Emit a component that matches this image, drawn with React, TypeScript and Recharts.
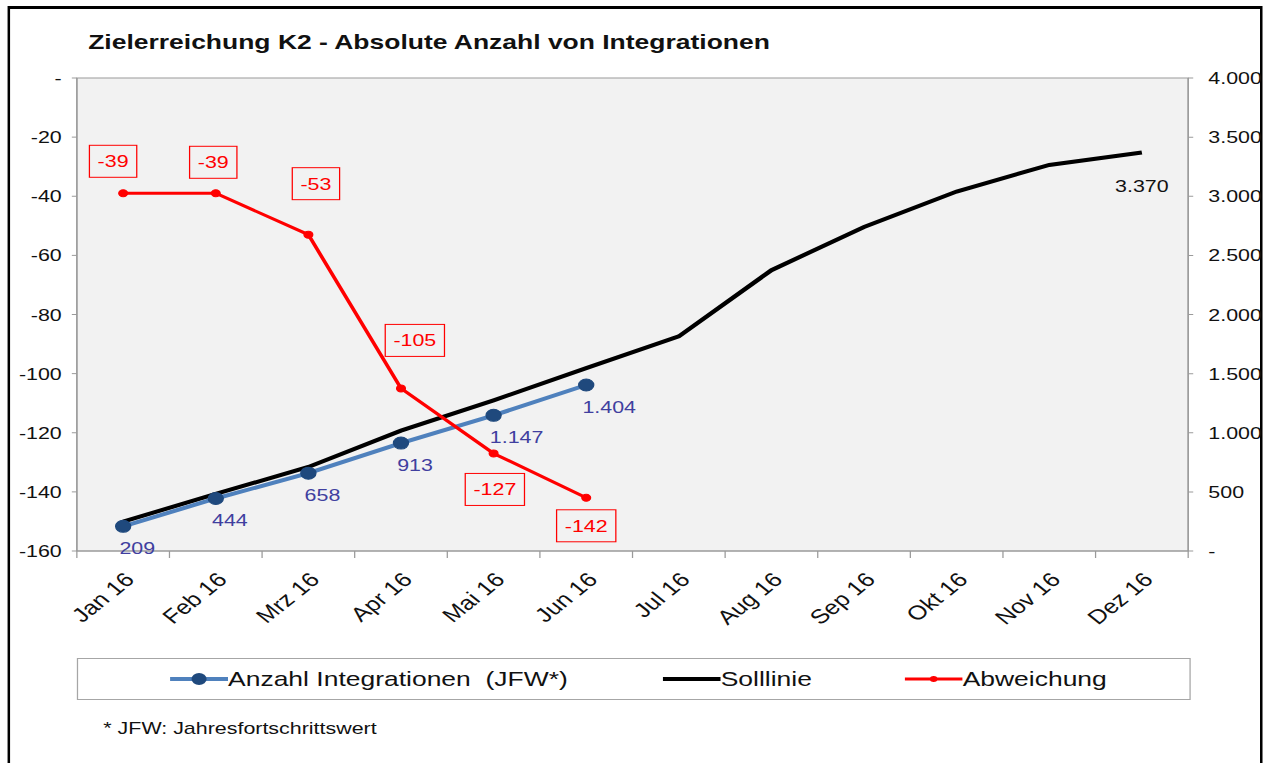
import React from "react";
import {
  ComposedChart,
  Line,
  XAxis,
  YAxis,
  ReferenceArea,
  LabelList,
} from "recharts";

// ---------------------------------------------------------------------------
// Data
// ---------------------------------------------------------------------------

const MONTHS = [
  "Jan 16", "Feb 16", "Mrz 16", "Apr 16", "Mai 16", "Jun 16",
  "Jul 16", "Aug 16", "Sep 16", "Okt 16", "Nov 16", "Dez 16",
];

// Anzahl Integrationen (JFW*) – right axis
const INTEGRATIONS = [209, 444, 658, 913, 1147, 1404, null, null, null, null, null, null];

// Solllinie – right axis
const TARGET = [248, 483, 711, 1018, 1274, 1546, 1815, 2375, 2740, 3040, 3265, 3370];

// Abweichung – left axis
const DEVIATION = [-39, -39, -53, -105, -127, -142, null, null, null, null, null, null];

const LEFT_TICKS = [-160, -140, -120, -100, -80, -60, -40, -20, 0];
const RIGHT_TICKS = [0, 500, 1000, 1500, 2000, 2500, 3000, 3500, 4000];

// ---------------------------------------------------------------------------
// Layout (the source picture is stretched horizontally, so we draw narrower
// and scale the whole thing in x)
// ---------------------------------------------------------------------------

const STRETCH = 1.26;
const W = 1006;
const H = 763;
const PLOT_LEFT = 61;
const PLOT_RIGHT = 943;
const PLOT_TOP = 78;
const PLOT_BOTTOM = 551;
const AXIS_W = 48;

const FONT = "'Liberation Sans', Arial, sans-serif";
const AXIS_GRAY = "#9a9a9a";
const BLUE = "#4f81bd";
const BLUE_DOT = "#1f497d";
const BLUE_TEXT = "#403f9f";
const RED = "#ff0000";

// manual placement of the boxed deviation labels (dx, dy from the point)
const RED_LABEL_OFFSETS = [
  [-8, -32], [-2, -31], [6, -51], [11, -48], [1, 36], [0, 28],
];

const data = MONTHS.map((month, i) => ({
  month,
  ist: INTEGRATIONS[i],
  soll: TARGET[i],
  abw: DEVIATION[i],
}));

const fmtDE = (v: number) =>
  v === 0 ? "-" : Math.round(v).toString().replace(/\B(?=(\d{3})+(?!\d))/g, ".");

const textWidth = (s: string, size: number) =>
  s.split("").reduce((w, c) => w + (c === "-" ? 0.333 : c === "." ? 0.278 : 0.556), 0) * size;

// ---------------------------------------------------------------------------
// Custom ticks & labels
// ---------------------------------------------------------------------------

const MonthTick = (props: any) => {
  const { x, payload, index } = props;
  const half = (PLOT_RIGHT - PLOT_LEFT) / MONTHS.length / 2;
  const ax = x + 10;
  const ay = PLOT_BOTTOM + 30;
  return (
    <g>
      <line x1={x - half} x2={x - half} y1={PLOT_BOTTOM} y2={PLOT_BOTTOM + 7} stroke={AXIS_GRAY} />
      {index === MONTHS.length - 1 && (
        <line x1={x + half} x2={x + half} y1={PLOT_BOTTOM} y2={PLOT_BOTTOM + 7} stroke={AXIS_GRAY} />
      )}
      <text
        x={ax}
        y={ay}
        textAnchor="end"
        fontSize={20}
        fontFamily={FONT}
        fill="#111"
        transform={`rotate(-45 ${ax} ${ay})`}
      >
        {payload.value}
      </text>
    </g>
  );
};

const IstLabel = (props: any) => {
  const { x, y, value } = props;
  if (value == null) return null;
  return (
    <text x={x - 3} y={y + 28} fill={BLUE_TEXT} fontSize={17} fontFamily={FONT}>
      {fmtDE(value)}
    </text>
  );
};

const SollLabel = (props: any) => {
  const { x, y, value, index } = props;
  if (index !== TARGET.length - 1) return null;
  return (
    <text x={x} y={y + 40} textAnchor="middle" fill="#111" fontSize={17} fontFamily={FONT}>
      {fmtDE(value)}
    </text>
  );
};

const AbwLabel = (props: any) => {
  const { x, y, value, index } = props;
  if (value == null) return null;
  const [dx, dy] = RED_LABEL_OFFSETS[index] || [0, -30];
  const label = String(Math.round(value));
  const w = textWidth(label, 17) + 13;
  const h = 32;
  const cx = x + dx;
  const cy = y + dy;
  return (
    <g>
      <rect x={cx - w / 2} y={cy - h / 2} width={w} height={h} fill="none" stroke={RED} strokeWidth={1} />
      <text x={cx} y={cy + 6} textAnchor="middle" fill={RED} fontSize={17} fontFamily={FONT}>
        {label}
      </text>
    </g>
  );
};

// ---------------------------------------------------------------------------
// Legend
// ---------------------------------------------------------------------------

const LegendItem = ({ left, color, width, dot, text }: any) => (
  <div style={{ position: "absolute", left, top: 0, height: 40, display: "flex", alignItems: "center" }}>
    <svg width={46} height={20} style={{ display: "block" }}>
      <line x1={0} x2={46} y1={10} y2={10} stroke={color} strokeWidth={width} />
      {dot && <circle cx={23} cy={10} r={dot.r} fill={dot.fill} />}
    </svg>
    <span style={{ fontSize: 21, whiteSpace: "pre", color: "#111" }}>{text}</span>
  </div>
);

// ---------------------------------------------------------------------------
// App
// ---------------------------------------------------------------------------

export default function App() {
  return (
    <div
      style={{
        position: "absolute",
        left: 0,
        top: 0,
        width: W,
        height: H,
        overflow: "hidden",
        background: "#fff",
        fontFamily: FONT,
        transform: `scaleX(${STRETCH})`,
        transformOrigin: "0 0",
      }}
    >
      {/* outer frame */}
      <div
        style={{
          position: "absolute",
          left: 6.3,
          top: 6,
          width: 996,
          height: 820,
          boxSizing: "border-box",
          borderStyle: "solid",
          borderColor: "#000",
          borderWidth: "3px 2.4px",
        }}
      />

      <div
        style={{
          position: "absolute",
          left: 70,
          top: 30,
          fontSize: 21,
          fontWeight: "bold",
          color: "#111",
          whiteSpace: "nowrap",
        }}
      >
        Zielerreichung K2 - Absolute Anzahl von Integrationen
      </div>

      <div style={{ position: "absolute", left: 0, top: 0 }}>
        <ComposedChart
          width={W}
          height={H}
          data={data}
          margin={{
            top: PLOT_TOP,
            left: PLOT_LEFT - AXIS_W,
            right: W - PLOT_RIGHT - AXIS_W,
            bottom: H - PLOT_BOTTOM - 80,
          }}
        >
          <ReferenceArea
            yAxisId="left"
            y1={-160}
            y2={0}
            fill="#f2f2f2"
            fillOpacity={1}
            stroke={AXIS_GRAY}
            ifOverflow="visible"
          />
          <XAxis
            dataKey="month"
            scale="band"
            interval={0}
            height={80}
            tickLine={false}
            axisLine={{ stroke: AXIS_GRAY }}
            tick={<MonthTick />}
          />
          <YAxis
            yAxisId="left"
            orientation="left"
            width={AXIS_W}
            domain={[-160, 0]}
            ticks={LEFT_TICKS}
            interval={0}
            tickFormatter={(v: number) => (v === 0 ? "-" : String(v))}
            axisLine={{ stroke: AXIS_GRAY }}
            tickLine={{ stroke: AXIS_GRAY }}
            tickSize={4}
            tickMargin={8}
            tick={{ fontSize: 17, fill: "#111", fontFamily: FONT }}
          />
          <YAxis
            yAxisId="right"
            orientation="right"
            width={AXIS_W}
            domain={[0, 4000]}
            ticks={RIGHT_TICKS}
            interval={0}
            tickFormatter={fmtDE}
            axisLine={{ stroke: AXIS_GRAY }}
            tickLine={{ stroke: AXIS_GRAY }}
            tickSize={4}
            tickMargin={12}
            tick={{ fontSize: 17, fill: "#111", fontFamily: FONT }}
          />
          <Line
            yAxisId="right"
            dataKey="soll"
            stroke="#000"
            strokeWidth={4}
            dot={false}
            isAnimationActive={false}
          >
            <LabelList dataKey="soll" content={<SollLabel />} />
          </Line>
          <Line
            yAxisId="right"
            dataKey="ist"
            stroke={BLUE}
            strokeWidth={4}
            dot={{ r: 6, fill: BLUE_DOT, stroke: BLUE_DOT, strokeWidth: 1 }}
            isAnimationActive={false}
          >
            <LabelList dataKey="ist" content={<IstLabel />} />
          </Line>
          <Line
            yAxisId="left"
            dataKey="abw"
            stroke={RED}
            strokeWidth={3}
            dot={{ r: 3.5, fill: RED, stroke: RED, strokeWidth: 1 }}
            isAnimationActive={false}
          >
            <LabelList dataKey="abw" content={<AbwLabel />} />
          </Line>
        </ComposedChart>
      </div>

      {/* legend */}
      <div
        style={{
          position: "absolute",
          left: 61,
          top: 658,
          width: 884,
          height: 42,
          boxSizing: "border-box",
          border: "1.5px solid #a6a6a6",
        }}
      >
        <LegendItem left={73} color={BLUE} width={4} dot={{ r: 6, fill: BLUE_DOT }} text="Anzahl Integrationen  (JFW*)" />
        <LegendItem left={464} color="#000" width={4} text="Solllinie" />
        <LegendItem left={656} color={RED} width={3} dot={{ r: 3, fill: RED }} text="Abweichung" />
      </div>

      <div style={{ position: "absolute", left: 82, top: 719, fontSize: 17, color: "#111", whiteSpace: "nowrap" }}>
        * JFW: Jahresfortschrittswert
      </div>
    </div>
  );
}
